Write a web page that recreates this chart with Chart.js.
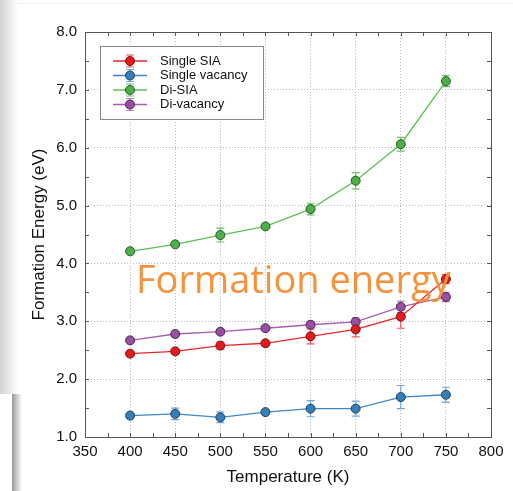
<!DOCTYPE html>
<html>
<head>
<meta charset="utf-8">
<script src="https://cdn.jsdelivr.net/npm/chart.js@4.4.0/dist/chart.umd.min.js"></script>
<style>
  html, body { margin:0; padding:0; background:#fff; }
  #wrap { position:relative; width:513px; height:491px; overflow:hidden; background:#fff; }
  #shadeTop { position:absolute; left:0; top:0; width:18px; height:394px; background:linear-gradient(to right,#d2d2d2,#fff); }
  #lineTop { position:absolute; left:18px; top:3px; width:495px; height:1px; background:#f0f0f0; }
  #shadeBot { position:absolute; left:12px; top:394px; width:10px; height:97px; background:linear-gradient(to right,#9a9a9a,#fff); }
  canvas { position:absolute; left:0; top:0; }
  #overlay { position:absolute; left:136px; top:259px; font-family:"Open Sans"; font-size:38px; line-height:38px; color:#f7923a; white-space:nowrap; }
</style>
</head>
<body>
<div id="wrap">
  <div id="shadeTop"></div>
  <div id="lineTop"></div>
  <div id="shadeBot"></div>
  <canvas id="myChart" width="513" height="491"></canvas>
  <div id="overlay">Formation energy</div>
</div>
<script>
/*data*/
const temps = [400, 450, 500, 550, 600, 650, 700, 750];
const singleSIA = [2.44, 2.48, 2.58, 2.62, 2.74, 2.86, 3.08, 3.73];
const singleSIAErr = [0.03, 0.04, 0.06, 0.04, 0.13, 0.13, 0.2, 0.08];
const singleVac = [1.37, 1.40, 1.34, 1.43, 1.49, 1.49, 1.69, 1.73];
const singleVacErr = [0.03, 0.1, 0.09, 0.03, 0.14, 0.13, 0.2, 0.13];
const diSIA = [4.21, 4.33, 4.49, 4.64, 4.94, 5.43, 6.06, 7.15];
const diSIAErr = [0.03, 0.03, 0.12, 0.03, 0.1, 0.14, 0.12, 0.095];
const diVac = [2.67, 2.78, 2.82, 2.88, 2.94, 2.99, 3.25, 3.42];
const diVacErr = [0.03, 0.03, 0.03, 0.03, 0.06, 0.07, 0.1, 0.08];
const seriesNames = ['Single SIA', 'Single vacancy', 'Di-SIA', 'Di-vacancy'];

const styles = [
  {line:'#e8262a', fill:'#e41a1c', edge:'#7a1010', err:'#ee5a5c'},
  {line:'#3f88c8', fill:'#377eb8', edge:'#1d3f5e', err:'#6ea8d8'},
  {line:'#5cbf58', fill:'#4daf4a', edge:'#255a24', err:'#6cc46a'},
  {line:'#a85db3', fill:'#984ea3', edge:'#4d2553', err:'#b784c0'}
];
const values = [singleSIA, singleVac, diSIA, diVac];
const errors = [singleSIAErr, singleVacErr, diSIAErr, diVacErr];

const FONT = '"Liberation Sans", Arial, sans-serif';

/*error bars*/
const errorBars = {
  id: 'errorBars',
  beforeDatasetsDraw(chart) {
    const ctx = chart.ctx, y = chart.scales.y;
    chart.data.datasets.forEach((ds, d) => {
      const meta = chart.getDatasetMeta(d);
      ctx.save();
      ctx.strokeStyle = styles[d].err;
      ctx.lineWidth = 1.2;
      meta.data.forEach((pt, i) => {
        const top = y.getPixelForValue(values[d][i] + errors[d][i]);
        const bot = y.getPixelForValue(values[d][i] - errors[d][i]);
        ctx.beginPath();
        ctx.moveTo(pt.x, top); ctx.lineTo(pt.x, bot);
        ctx.moveTo(pt.x - 4, top); ctx.lineTo(pt.x + 4, top);
        ctx.moveTo(pt.x - 4, bot); ctx.lineTo(pt.x + 4, bot);
        ctx.stroke();
      });
      ctx.restore();
    });
  }
};

/*frame and inward ticks*/
const frame = {
  id: 'frame',
  beforeDatasetsDraw(chart) {
    const ctx = chart.ctx, a = chart.chartArea, x = chart.scales.x, y = chart.scales.y;
    ctx.save();
    ctx.strokeStyle = '#555';
    ctx.lineWidth = 1;
    ctx.beginPath();
    for (let t = 350; t <= 800; t += 25) {
      const px = Math.round(x.getPixelForValue(t)) + 0.5;
      ctx.moveTo(px, a.top); ctx.lineTo(px, a.top + 4);
      ctx.moveTo(px, a.bottom); ctx.lineTo(px, a.bottom - 4);
    }
    for (let v = 1; v <= 8; v += 0.5) {
      const py = Math.round(y.getPixelForValue(v)) + 0.5;
      ctx.moveTo(a.left, py); ctx.lineTo(a.left + 4, py);
      ctx.moveTo(a.right, py); ctx.lineTo(a.right - 4, py);
    }
    ctx.stroke();
    ctx.strokeRect(Math.round(a.left) + 0.5, Math.round(a.top) + 0.5, Math.round(a.right - a.left), Math.round(a.bottom - a.top));
    ctx.restore();
  }
};

/*legend*/
const legendBox = {
  id: 'legendBox',
  afterDraw(chart) {
    const ctx = chart.ctx, a = chart.chartArea;
    const bx = a.left + 15, by = a.top + 14, bw = 163, bh = 73;
    ctx.save();
    ctx.fillStyle = '#fff';
    ctx.fillRect(bx, by, bw, bh);
    ctx.strokeStyle = '#888';
    ctx.lineWidth = 1;
    ctx.strokeRect(bx + 0.5, by + 0.5, bw, bh);
    seriesNames.forEach((name, i) => {
      const ry = by + 15 + i * 14.5, cx = bx + 30;
      ctx.strokeStyle = styles[i].line;
      ctx.lineWidth = 1.3;
      ctx.beginPath(); ctx.moveTo(bx + 13, ry); ctx.lineTo(bx + 47, ry); ctx.stroke();
      ctx.strokeStyle = styles[i].err;
      ctx.lineWidth = 1.2;
      ctx.beginPath();
      ctx.moveTo(cx, ry - 6); ctx.lineTo(cx, ry + 6);
      ctx.moveTo(cx - 4, ry - 6); ctx.lineTo(cx + 4, ry - 6);
      ctx.moveTo(cx - 4, ry + 6); ctx.lineTo(cx + 4, ry + 6);
      ctx.stroke();
      ctx.beginPath(); ctx.arc(cx, ry, 4.5, 0, Math.PI * 2);
      ctx.fillStyle = styles[i].fill; ctx.fill();
      ctx.strokeStyle = styles[i].edge; ctx.lineWidth = 1; ctx.stroke();
      ctx.fillStyle = '#111';
      ctx.font = '13px ' + FONT;
      ctx.textBaseline = 'middle';
      ctx.fillText(name, bx + 60, ry);
    });
    ctx.restore();
  }
};

const datasets = values.map((vals, d) => ({
  label: seriesNames[d],
  data: temps.map((t, i) => ({x: t, y: vals[i]})),
  borderColor: styles[d].line,
  borderWidth: 1.3,
  pointRadius: 4.5,
  pointHoverRadius: 4.5,
  pointBackgroundColor: styles[d].fill,
  pointBorderColor: styles[d].edge,
  pointBorderWidth: 1,
  tension: 0,
  fill: false
}));

var ctx = document.getElementById('myChart').getContext('2d');
var myChart = new Chart(ctx, {
  type: 'line',
  data: { datasets: datasets },
  plugins: [errorBars, frame, legendBox],
  options: {
    responsive: false,
    animation: false,
    devicePixelRatio: 1,
    layout: { padding: { top: 32, right: 22, left: 0, bottom: 0 } },
    plugins: { legend: { display: false }, tooltip: { enabled: false } },
    scales: {
      x: {
        type: 'linear', min: 350, max: 800,
        afterFit: (s) => { s.height = 54; },
        ticks: { stepSize: 50, padding: 6, color: '#111', font: { family: FONT, size: 15 } },
        grid: { color: '#b8b8b8', drawTicks: false },
        border: { display: false, dash: [1, 2] },
        title: { display: true, text: 'Temperature (K)', color: '#111', font: { family: FONT, size: 17 }, padding: { bottom: 3 } }
      },
      y: {
        min: 1, max: 8,
        afterFit: (s) => { s.width = 85; },
        ticks: { stepSize: 1, padding: 8, color: '#111', font: { family: FONT, size: 15 }, callback: (v) => v.toFixed(1) },
        grid: { color: '#b8b8b8', drawTicks: false },
        border: { display: false, dash: [1, 2] },
        title: { display: true, text: 'Formation Energy (eV)', color: '#111', font: { family: FONT, size: 17 }, padding: { top: 29 } }
      }
    }
  }
});
</script>
</body>
</html>
